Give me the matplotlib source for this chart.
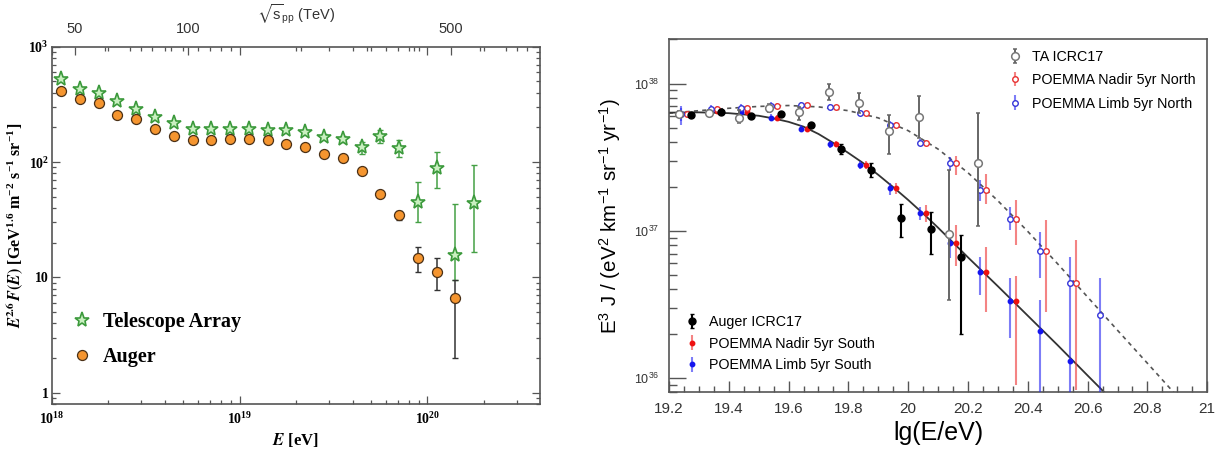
import numpy as np
import matplotlib
matplotlib.use('Agg')
import matplotlib.pyplot as plt
from matplotlib import ticker

plt.rcParams['mathtext.fontset'] = 'stix'

# ---------------- left panel: E^2.6 F(E) ----------------
lgE_ta = [18.05, 18.15, 18.25, 18.35, 18.45, 18.55, 18.65, 18.75, 18.85, 18.95, 19.05, 19.15,
          19.25, 19.35, 19.45, 19.55, 19.65, 19.75, 19.85, 19.95, 20.05, 20.15, 20.25]
flux_ta = [525, 433, 397, 341, 288, 246, 217, 192, 192, 192, 195, 189,
           189, 182, 166, 158, 134, 169, 132, 45.4, 88.3, 15.7, 44.5]
ta_lo = [525, 433, 397, 341, 288, 246, 217, 192, 192, 192, 195, 189,
         189, 175, 158, 148, 117, 147, 110, 30.1, 60, 9.5, 16.7]
ta_hi = [525, 433, 397, 341, 288, 246, 217, 192, 192, 192, 195, 189,
         189, 190, 174, 168, 150, 190, 156, 67.6, 122, 43.4, 94.4]

lgE_auger = [18.05, 18.15, 18.25, 18.35, 18.45, 18.55, 18.65, 18.75, 18.85, 18.95, 19.05,
             19.15, 19.25, 19.35, 19.45, 19.55, 19.65, 19.75, 19.85, 19.95, 20.05, 20.15]
flux_auger = [413, 352, 323, 254, 235, 195, 168, 155, 155, 158, 158,
              156, 143, 136, 117, 109, 84, 53, 34.6, 14.7, 11.2, 6.7]
auger_lo = [413, 352, 323, 254, 235, 195, 168, 155, 155, 158, 158,
            156, 143, 136, 117, 109, 84, 51.5, 31.6, 11.2, 7.8, 2.0]
auger_hi = [413, 352, 323, 254, 235, 195, 168, 155, 155, 158, 158,
            156, 143, 136, 117, 109, 84, 54.5, 37.9, 18.3, 14.6, 9.5]

sqrts_major = [50, 100, 500]
sqrts_minor = [60, 70, 80, 90, 200, 300, 400, 600, 700, 800]

# ---------------- right panel: E^3 J ----------------
lg_auger17 = [19.275, 19.375, 19.475, 19.575, 19.675, 19.775, 19.875, 19.975, 20.075, 20.175]
j_auger17 = [6.10e37, 6.38e37, 6.0e37, 6.2e37, 5.21e37, 3.59e37, 2.58e37, 1.23e37, 1.03e37, 6.67e36]
lo_auger17 = [5.9e37, 6.2e37, 5.85e37, 6.05e37, 5.05e37, 3.32e37, 2.33e37, 9.1e36, 7.0e36, 1.99e36]
hi_auger17 = [6.3e37, 6.55e37, 6.15e37, 6.35e37, 5.4e37, 3.87e37, 2.87e37, 1.53e37, 1.35e37, 9.4e36]

lg_ta17 = [19.235, 19.335, 19.435, 19.535, 19.635, 19.735, 19.835, 19.935, 20.035, 20.135, 20.235]
j_ta17 = [6.2e37, 6.32e37, 5.88e37, 6.84e37, 6.43e37, 8.77e37, 7.43e37, 4.75e37, 5.94e37, 9.46e36, 2.91e37]
lo_ta17 = [5.9e37, 6.0e37, 5.41e37, 6.45e37, 5.70e37, 7.71e37, 6.32e37, 3.32e37, 4.24e37, 3.4e36, 1.08e37]
hi_ta17 = [6.5e37, 6.65e37, 6.59e37, 7.25e37, 6.93e37, 1.0e38, 8.63e37, 6.1e37, 8.2e37, 2.58e37, 6.27e37]

lg_limb_s = [19.24, 19.34, 19.44, 19.54, 19.64, 19.74, 19.84, 19.94, 20.04, 20.14, 20.24, 20.34, 20.44, 20.54]
j_limb_s = [6.17e37, 6.49e37, 6.43e37, 5.88e37, 4.95e37, 3.87e37, 2.82e37, 1.94e37, 1.32e37,
            8.22e36, 5.28e36, 3.34e36, 2.09e36, 1.31e36]
lo_limb_s = [5.2e37, 6.1e37, 6.05e37, 5.55e37, 4.7e37, 3.65e37, 2.62e37, 1.75e37, 1.18e37,
             6.52e36, 3.67e36, 1.87e36, 5e35, 5e35]
hi_limb_s = [7.0e37, 6.9e37, 6.8e37, 6.2e37, 5.2e37, 4.1e37, 3.0e37, 2.12e37, 1.46e37,
             9.86e36, 6.67e36, 4.77e36, 3.4e36, 2.83e36]

lg_nadir_s = [19.26, 19.36, 19.46, 19.56, 19.66, 19.76, 19.86, 19.96, 20.06, 20.16, 20.26, 20.36]
j_nadir_s = [6.17e37, 6.49e37, 6.43e37, 5.88e37, 4.95e37, 3.87e37, 2.82e37, 1.94e37, 1.32e37,
             8.22e36, 5.28e36, 3.34e36]
lo_nadir_s = [5.9e37, 6.25e37, 6.2e37, 5.65e37, 4.75e37, 3.7e37, 2.65e37, 1.78e37, 1.15e37,
              5.76e36, 2.83e36, 9.0e35]
hi_nadir_s = [6.45e37, 6.75e37, 6.65e37, 6.1e37, 5.15e37, 4.05e37, 3.0e37, 2.1e37, 1.5e37,
              1.1e37, 7.8e36, 4.95e36]

lg_limb_n = [19.24, 19.34, 19.44, 19.54, 19.64, 19.74, 19.84, 19.94, 20.04, 20.14, 20.24, 20.34,
             20.44, 20.54, 20.64]
j_limb_n = [6.2e37, 6.77e37, 6.87e37, 7.09e37, 7.13e37, 6.93e37, 6.32e37, 5.21e37, 3.98e37,
            2.87e37, 1.89e37, 1.20e37, 7.29e36, 4.41e36, 2.66e36]
lo_limb_n = [5.6e37, 6.4e37, 6.5e37, 6.75e37, 6.8e37, 6.6e37, 6.0e37, 4.9e37, 3.75e37,
             2.6e37, 1.6e37, 1.01e37, 4.77e36, 2.83e36, 5e35]
hi_limb_n = [6.8e37, 7.15e37, 7.25e37, 7.45e37, 7.5e37, 7.3e37, 6.65e37, 5.55e37, 4.2e37,
             3.15e37, 2.2e37, 1.46e37, 9.86e36, 6.67e36, 4.77e36]

lg_nadir_n = [19.26, 19.36, 19.46, 19.56, 19.66, 19.76, 19.86, 19.96, 20.06, 20.16, 20.26, 20.36,
              20.46, 20.56]
j_nadir_n = [6.2e37, 6.77e37, 6.87e37, 7.09e37, 7.13e37, 6.93e37, 6.32e37, 5.21e37, 3.98e37,
             2.87e37, 1.89e37, 1.20e37, 7.29e36, 4.41e36]
lo_nadir_n = [5.95e37, 6.55e37, 6.65e37, 6.85e37, 6.9e37, 6.7e37, 6.1e37, 5.0e37, 3.8e37,
              2.4e37, 1.52e37, 8.0e36, 2.8e36, 8.3e35]
hi_nadir_n = [6.45e37, 7.0e37, 7.1e37, 7.35e37, 7.4e37, 7.2e37, 6.55e37, 5.45e37, 4.15e37,
              3.2e37, 2.45e37, 1.63e37, 1.18e37, 8.67e36]

# fitted spectra
lg_fit_s = [19.2, 19.3, 19.4, 19.5, 19.55, 19.6, 19.65, 19.7, 19.75, 19.8, 19.85, 19.9, 19.95,
            20.0, 20.05, 20.1, 20.2, 20.3, 20.4, 20.5, 20.6, 20.7]
j_fit_s = [6.35e37, 6.38e37, 6.3e37, 6.05e37, 5.8e37, 5.5e37, 5.1e37, 4.55e37, 3.95e37, 3.38e37,
           2.88e37, 2.4e37, 1.98e37, 1.62e37, 1.31e37, 1.05e37, 6.6e36, 4.2e36, 2.65e36,
           1.67e36, 1.04e36, 6.5e35]
lg_fit_n = [19.2, 19.3, 19.4, 19.5, 19.6, 19.7, 19.8, 19.9, 20.0, 20.1, 20.2, 20.3, 20.4, 20.5,
            20.6, 20.7, 20.8, 20.9]
j_fit_n = [6.3e37, 6.55e37, 6.8e37, 7.0e37, 7.1e37, 6.95e37, 6.55e37, 5.85e37, 4.79e37, 3.59e37,
           2.48e37, 1.6e37, 9.9e36, 5.96e36, 3.55e36, 2.11e36, 1.26e36, 7.5e35]


def yerr(v, lo, hi):
  v = np.array(v); return [v - np.array(lo), np.array(hi) - v]


def e_to_sqrts(E):
  return np.sqrt(2 * 0.938e9 * np.abs(E)) / 1e12


def sqrts_to_e(s):
  return (np.asarray(s) * 1e12) ** 2 / (2 * 0.938e9)


serif = 'Liberation Serif'
sans = 'Liberation Sans'

fig = plt.figure(figsize=(12.25, 4.55), dpi=100)

# ================= left =================
ax = fig.add_axes([0.0422, 0.1121, 0.3986, 0.7853])
ax.set_xscale('log'); ax.set_yscale('log')
ax.set_xlim(1e18, 3.98e20); ax.set_ylim(0.8, 1000)

E_ta = 10 ** np.array(lgE_ta)
E_au = 10 ** np.array(lgE_auger)
ax.errorbar(E_ta, flux_ta, yerr=yerr(flux_ta, ta_lo, ta_hi), fmt='none', ecolor='#45a045',
            elinewidth=1.1, capsize=2, capthick=1.0, zorder=2)
ax.errorbar(E_au, flux_auger, yerr=yerr(flux_auger, auger_lo, auger_hi), fmt='none', ecolor='#333333',
            elinewidth=1.1, capsize=2, capthick=1.0, zorder=2)
ta_pts, = ax.plot(E_ta, flux_ta, ls='none', marker='*', ms=11, mfc='#c9f0c0', mec='#3c9a3c', mew=1.2,
                  zorder=3, label='Telescope Array')
au_pts, = ax.plot(E_au, flux_auger, ls='none', marker='o', ms=7.2, mfc='#f5952f', mec='#4a3016', mew=0.9,
                  zorder=4, label='Auger')

ax.xaxis.set_major_locator(ticker.FixedLocator([1e18, 1e19, 1e20]))
ax.xaxis.set_minor_locator(ticker.LogLocator(subs=np.arange(2, 10)))
ax.xaxis.set_minor_formatter(ticker.NullFormatter())
ax.yaxis.set_major_locator(ticker.FixedLocator([1, 10, 100, 1000]))
ax.yaxis.set_minor_locator(ticker.LogLocator(subs=np.arange(2, 10)))
ax.yaxis.set_minor_formatter(ticker.NullFormatter())
ax.xaxis.set_major_formatter(ticker.FuncFormatter(lambda v, p: r'$\mathdefault{10^{%d}}$' % round(np.log10(v))))
ax.yaxis.set_major_formatter(ticker.FuncFormatter(
  lambda v, p: '%d' % v if v < 100 else r'$\mathdefault{10^{%d}}$' % round(np.log10(v))))
ax.tick_params(which='both', direction='in', top=True, right=True, color='#555555', width=0.9)
ax.tick_params(which='major', length=5.5)
ax.tick_params(which='minor', length=3)
ax.tick_params(axis='x', pad=5, labelsize=10)
ax.tick_params(axis='y', pad=2, labelsize=10)
for lab in ax.get_xticklabels() + ax.get_yticklabels():
  lab.set_fontfamily(serif); lab.set_fontweight('bold')
for s in ax.spines.values():
  s.set_color('#555555'); s.set_linewidth(1.2)

ax.set_xlabel(r'$\mathbfit{E}$ [eV]', fontfamily=serif, fontweight='bold', fontsize=12)
ax.xaxis.set_label_coords(0.5, -0.075)
ax.set_ylabel(r'$\mathbfit{E}^{\mathbf{2.6}}\,\mathbfit{F}\mathbf{(}\mathbfit{E}\mathbf{)}$ '
              r'[GeV$^{\mathdefault{1.6}}$ m$^{\mathdefault{-2}}$ s$^{\mathdefault{-1}}$ sr$^{\mathdefault{-1}}$]',
              fontfamily=serif, fontweight='bold', fontsize=11.5)
ax.yaxis.set_label_coords(-0.055, 0.5)

ax.legend(handles=[ta_pts, au_pts], loc='upper left', bbox_to_anchor=(0.02, 0.285), frameon=False,
          prop={'family': serif, 'weight': 'bold', 'size': 14.5}, handlelength=1.0, handletextpad=0.55,
          labelspacing=0.72, borderpad=0)

sec = ax.secondary_xaxis('top', functions=(e_to_sqrts, sqrts_to_e))
sec.xaxis.set_major_locator(ticker.FixedLocator(sqrts_major))
sec.xaxis.set_minor_locator(ticker.FixedLocator(sqrts_minor))
sec.xaxis.set_major_formatter(ticker.FormatStrFormatter('%d'))
sec.xaxis.set_minor_formatter(ticker.NullFormatter())
sec.tick_params(which='both', direction='in', color='#555555', width=0.9, labelsize=10.5,
                labelcolor='#333333', pad=7.5)
sec.tick_params(which='major', length=5.5)
sec.tick_params(which='minor', length=3)
for lab in sec.get_xticklabels():
  lab.set_fontfamily(sans)
sec.spines['top'].set_visible(False)
sec.set_xlabel(r'$\sqrt{\mathdefault{s}}_{\mathdefault{pp}}$ (TeV)', fontfamily=sans, fontsize=10.5,
               color='#333333', labelpad=2)

# ================= right =================
ax2 = fig.add_axes([0.5461, 0.1378, 0.4394, 0.7758])
ax2.set_yscale('log')
ax2.set_xlim(19.2, 21); ax2.set_ylim(8e35, 2e38)

ax2.plot(lg_fit_n, j_fit_n, color='#555555', lw=1.2, ls=(0, (2.5, 2.5)), zorder=1)
ax2.plot(lg_fit_s, j_fit_s, color='#333333', lw=1.3, zorder=1)

red_bar = (0.93, 0.2, 0.2, 0.6)
blue_bar = (0.15, 0.15, 0.95, 0.6)
h_nadir_s = ax2.errorbar(lg_nadir_s, j_nadir_s, yerr=yerr(j_nadir_s, lo_nadir_s, hi_nadir_s), fmt='o',
                         ms=3.2, mfc='#ee1111', mec='#ee1111', ecolor=red_bar, elinewidth=1.5, zorder=3,
                         label='POEMMA Nadir 5yr South')
h_limb_s = ax2.errorbar(lg_limb_s, j_limb_s, yerr=yerr(j_limb_s, lo_limb_s, hi_limb_s), fmt='o',
                        ms=3.2, mfc='#1515ee', mec='#1515ee', ecolor=blue_bar, elinewidth=1.5, zorder=3,
                        label='POEMMA Limb 5yr South')
h_nadir_n = ax2.errorbar(lg_nadir_n, j_nadir_n, yerr=yerr(j_nadir_n, lo_nadir_n, hi_nadir_n), fmt='o',
                         ms=4, mfc='white', mec='#e83030', mew=1.0, ecolor=red_bar, elinewidth=1.5, zorder=3,
                         label='POEMMA Nadir 5yr North')
h_limb_n = ax2.errorbar(lg_limb_n, j_limb_n, yerr=yerr(j_limb_n, lo_limb_n, hi_limb_n), fmt='o',
                        ms=4, mfc='white', mec='#3535d8', mew=1.0, ecolor=blue_bar, elinewidth=1.5, zorder=3,
                        label='POEMMA Limb 5yr North')
h_ta = ax2.errorbar(lg_ta17, j_ta17, yerr=yerr(j_ta17, lo_ta17, hi_ta17), fmt='o', ms=5.5, mfc='white',
                    mec='#777777', mew=1.1, ecolor='#666666', elinewidth=1.4, capsize=1.5, zorder=4,
                    label='TA ICRC17')
h_au = ax2.errorbar(lg_auger17, j_auger17, yerr=yerr(j_auger17, lo_auger17, hi_auger17), fmt='o', ms=5,
                    mfc='black', mec='black', ecolor='black', elinewidth=1.5, capsize=1.5, zorder=5,
                    label='Auger ICRC17')

ax2.xaxis.set_major_locator(ticker.MultipleLocator(0.2))
ax2.xaxis.set_minor_locator(ticker.MultipleLocator(0.05))
ax2.xaxis.set_major_formatter(ticker.FuncFormatter(lambda v, p: '%g' % round(v, 1)))
ax2.yaxis.set_major_locator(ticker.FixedLocator([1e36, 1e37, 1e38]))
ax2.yaxis.set_minor_locator(ticker.LogLocator(subs=np.arange(2, 10)))
ax2.yaxis.set_minor_formatter(ticker.NullFormatter())
ax2.yaxis.set_major_formatter(ticker.FuncFormatter(lambda v, p: r'$\mathdefault{10^{%d}}$' % round(np.log10(v))))
ax2.tick_params(which='both', direction='in', color='#555555', width=1.0, labelcolor='#333333')
ax2.tick_params(axis='x', which='major', length=8, pad=7, labelsize=11)
ax2.tick_params(axis='x', which='minor', length=4.5)
ax2.tick_params(axis='y', which='major', length=12.5, pad=7, labelsize=9)
ax2.tick_params(axis='y', which='minor', length=6)
for lab in ax2.get_xticklabels() + ax2.get_yticklabels():
  lab.set_fontfamily(sans)
for s in ax2.spines.values():
  s.set_color('#555555'); s.set_linewidth(1.2)

ax2.set_xlabel('lg(E/eV)', fontfamily=sans, fontsize=18)
ax2.xaxis.set_label_coords(0.5, -0.08)
ax2.set_ylabel(r'E$^{\mathdefault{3}}$ J / (eV$^{\mathdefault{2}}$ km$^{\mathdefault{-1}}$ '
               r'sr$^{\mathdefault{-1}}$ yr$^{\mathdefault{-1}}$)', fontfamily=sans, fontsize=14.8)
ax2.yaxis.set_label_coords(-0.085, 0.5)

leg_prop = {'family': sans, 'size': 10.3}
leg1 = ax2.legend(handles=[h_ta, h_nadir_n, h_limb_n], loc='upper left', bbox_to_anchor=(0.616, 0.99),
                  frameon=False, prop=leg_prop, handlelength=1.0, handletextpad=0.67, labelspacing=0.65,
                  borderpad=0)
ax2.add_artist(leg1)
ax2.legend(handles=[h_au, h_nadir_s, h_limb_s], loc='upper left', bbox_to_anchor=(0.017, 0.24),
           frameon=False, prop=leg_prop, handlelength=1.0, handletextpad=0.67, labelspacing=0.55,
           borderpad=0)

fig.savefig('out.png', dpi=100)
